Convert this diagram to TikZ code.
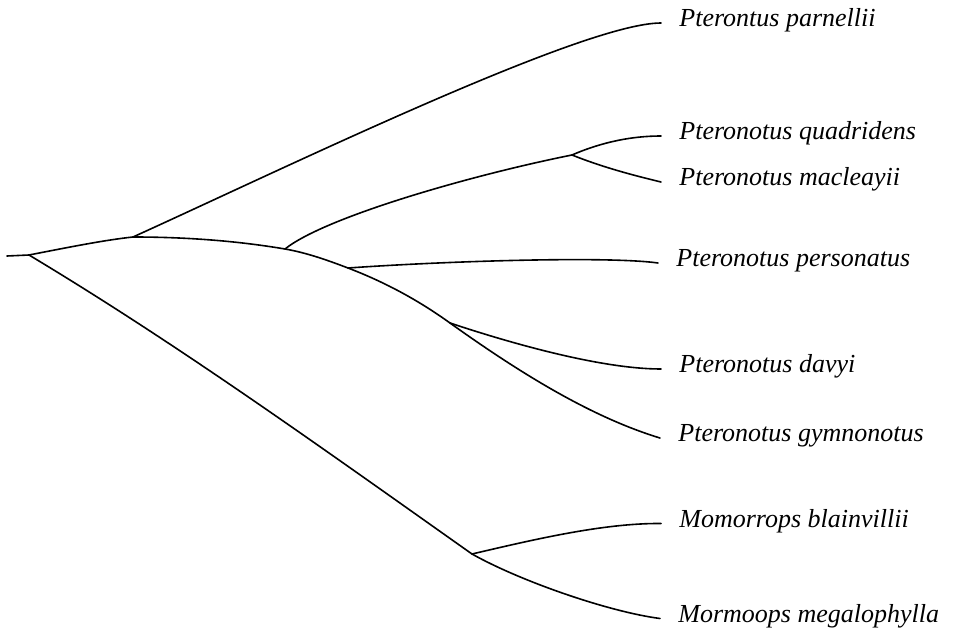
\documentclass[tikz,border=0pt]{standalone}
\usepackage{fontspec}
\setmainfont{Liberation Serif}
\usepackage{tikz}

\begin{document}
\begin{tikzpicture}[x=0.5pt, y=-0.5pt,
    branch/.style={line width=0.8pt, line cap=round},
    taxon/.style={anchor=base west, inner xsep=9pt, inner ysep=0pt,
        font=\itshape\fontsize{13}{15}\selectfont}]

    \useasboundingbox (0,0) rectangle (955,631);

    % inner nodes of the tree
    \coordinate (stub) at (7,256);
    \coordinate (root) at (29,255);
    \coordinate (ptero) at (133,237);
    \coordinate (quma) at (285,249);
    \coordinate (pers) at (348,268);
    \coordinate (dagy) at (450,323);
    \coordinate (qm) at (572,155);
    \coordinate (mormo) at (472,554);

    % species
    \node[taxon] (parnellii) at (661,26.5) {Pterontus parnellii};
    \node[taxon] (quadridens) at (661,139.5) {Pteronotus quadridens};
    \node[taxon] (macleayii) at (661,185.5) {Pteronotus macleayii};
    \node[taxon] (personatus) at (658,266.5) {Pteronotus personatus};
    \node[taxon] (davyi) at (661,372.5) {Pteronotus davyi};
    \node[taxon] (gymnonotus) at (660,441.5) {Pteronotus gymnonotus};
    \node[taxon] (blainvillii) at (661,527) {Momorrops blainvillii};
    \node[taxon] (megalophylla) at (660,622) {Mormoops megalophylla};

    \draw[branch] (stub) -- (root);
    \draw[branch] (root) .. controls (70,247) and (105,240) .. (ptero);
    \draw[branch] (ptero) .. controls (283,169) and (583,23) .. ([yshift=1.75pt]parnellii.base west);
    \draw[branch] (ptero) .. controls (183,237) and (235,240.5) .. (quma)
        .. controls (306,252.6) and (327,260) .. (pers)
        .. controls (382,281) and (416,298.5) .. (dagy)
        .. controls (520,373) and (591,417) .. ([yshift=1.75pt]gymnonotus.base west);
    \draw[branch] (quma) .. controls (325,217) and (472,175) .. (qm);
    \draw[branch] (qm) .. controls (602,142) and (632,136) .. ([yshift=1.75pt]quadridens.base west);
    \draw[branch] (qm) .. controls (602,167) and (632,175) .. ([yshift=1.75pt]macleayii.base west);
    \draw[branch] (pers) .. controls (448,261) and (608,256) .. ([yshift=1.75pt]personatus.base west);
    \draw[branch] (dagy) .. controls (510,343) and (601,369) .. ([yshift=1.75pt]davyi.base west);
    \draw[branch] (root) .. controls (179,345) and (322,448) .. (mormo);
    \draw[branch] (mormo) .. controls (532,540) and (603,523) .. ([yshift=1.75pt]blainvillii.base west);
    \draw[branch] (mormo) .. controls (522,582) and (610,612) .. ([yshift=1.75pt]megalophylla.base west);

\end{tikzpicture}
\end{document}
